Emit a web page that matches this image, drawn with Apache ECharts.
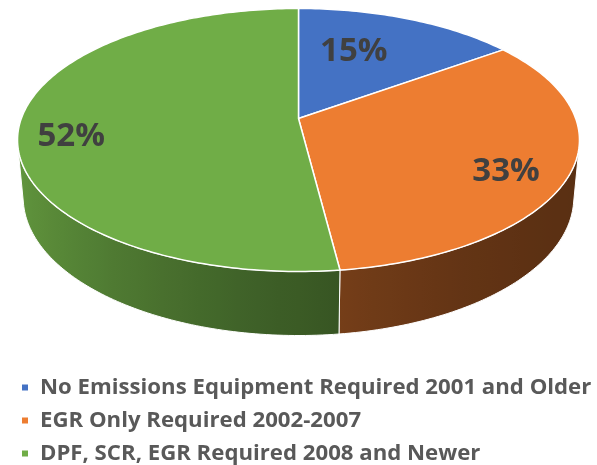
<!DOCTYPE html>
<html>
<head>
<meta charset="utf-8">
<script src="https://cdn.jsdelivr.net/npm/echarts@6/dist/echarts.min.js"></script>
<style>
  html, body { margin: 0; padding: 0; background: #fff; }
  #chart { width: 597px; height: 465px; }
</style>
</head>
<body>
<div id="chart"></div>
<script>
// Fleet share by emissions equipment generation
const categories = [
  'No Emissions Equipment Required 2001 and Older',
  'EGR Only Required 2002-2007',
  'DPF, SCR, EGR Required 2008 and Newer'
];
const shares = [15, 33, 52];
const colors = ['#4472C4', '#ED7D31', '#70AD47'];

// Where each percentage label sits on the disc (fraction of radius, vertical nudge in px)
const labelPlacement = [
  { r: 0.47, dy: -17 },
  { r: 0.775, dy: 11.5 },
  { r: 0.815, dy: 11.5 }
];

// Perspective camera looking down on a unit-radius disc
const VIEW = {
  cx: 298.5, cy: 118.5,      // screen position of the disc centre
  F: 1504,                   // focal length in px
  d: 5.426,                  // camera distance (in radii)
  tilt: 27.5 * Math.PI / 180,
  thickness: 0.2355          // disc thickness (in radii)
};
const CA = Math.cos(VIEW.tilt), SA = Math.sin(VIEW.tilt);

// theta: clockwise from the far edge; r: radius fraction; z: height (0 = top face)
function project(theta, r, z) {
  const X = r * Math.sin(theta), Y = r * Math.cos(theta);
  const dep = VIEW.d + Y * CA - z * SA;
  const sy = Y * SA + z * CA;
  return [VIEW.cx + VIEW.F * X / dep, VIEW.cy - VIEW.F * sy / dep];
}

// the rim faces the camera only where cos(theta) < -1/(d cos tilt)
const RIM_FROM = Math.acos(-1 / (VIEW.d * CA));
const RIM_TO = 2 * Math.PI - RIM_FROM;

function shade(hex, k) {
  const n = parseInt(hex.slice(1), 16);
  const r = Math.round(((n >> 16) & 255) * k);
  const g = Math.round(((n >> 8) & 255) * k);
  const b = Math.round((n & 255) * k);
  return 'rgb(' + r + ',' + g + ',' + b + ')';
}
// light comes from the left of the disc
function rimLight(theta) {
  const t = (1 + Math.cos(theta - 1.5 * Math.PI)) / 2;
  return 0.38 + 0.5 * Math.pow(t, 1.8);
}

function arc(a, b, r, z) {
  const pts = [];
  const steps = Math.max(2, Math.ceil((b - a) / (Math.PI / 180)));
  for (let s = 0; s <= steps; s++) pts.push(project(a + (b - a) * s / steps, r, z));
  return pts;
}

const total = shares.reduce((s, v) => s + v, 0);

function renderSlice(params, api) {
  const i = params.seriesIndex;
  let before = 0;
  for (let j = 0; j < i; j++) before += shares[j];
  const a = before / total * 2 * Math.PI;
  const b = a + api.value(0) / total * 2 * Math.PI;
  const color = colors[i];
  const children = [];

  // visible part of the rim
  const s = Math.max(a, RIM_FROM), e = Math.min(b, RIM_TO);
  if (e > s) {
    const top = arc(s, e, 1, 0);
    const bottom = arc(s, e, 1, -VIEW.thickness).reverse();
    const x0 = top[0][0], x1 = top[top.length - 1][0];
    const stops = [];
    const n = 24;
    for (let k = 0; k <= n; k++) {
      const th = s + (e - s) * k / n;
      const x = project(th, 1, 0)[0];
      stops.push({ offset: Math.min(1, Math.max(0, (x - x0) / (x1 - x0))), color: shade(color, rimLight(th)) });
    }
    stops.sort((p, q) => p.offset - q.offset);
    children.push({
      type: 'polygon',
      z2: 1,
      shape: { points: top.concat(bottom) },
      style: {
        fill: new echarts.graphic.LinearGradient(x0, 0, x1, 0, stops, true),
        stroke: '#ffffff', lineWidth: 1, lineJoin: 'round'
      }
    });
  }

  // top face
  children.push({
    type: 'polygon',
    z2: 5,
    shape: { points: [project(0, 0, 0)].concat(arc(a, b, 1, 0)) },
    style: { fill: color, stroke: '#ffffff', lineWidth: 1.5, lineJoin: 'round' }
  });

  // percentage label
  const lp = labelPlacement[i];
  const p = project((a + b) / 2, lp.r, 0);
  children.push({
    type: 'text',
    z2: 10,
    x: p[0], y: p[1] + lp.dy,
    style: {
      text: Math.round(api.value(0) / total * 100) + '%',
      fill: '#404040',
      font: 'bold 33px "Open Sans"',
      align: 'center', verticalAlign: 'middle'
    }
  });

  return { type: 'group', children };
}

const chart = echarts.init(document.getElementById('chart'), null, { renderer: 'canvas' });
chart.setOption({
  animation: false,
  backgroundColor: '#ffffff',
  legend: {
    orient: 'vertical',
    left: 22, top: 376.5,
    width: 575, height: 110,
    padding: 0,
    itemWidth: 6, itemHeight: 6,
    itemGap: 11,
    icon: 'rect',
    selectedMode: false,
    data: categories,
    textStyle: {
      fontFamily: 'Open Sans', fontWeight: 'bold', fontSize: 22.2,
      color: '#595959', padding: [0, 0, 0, 7]
    }
  },
  series: categories.map((name, i) => ({
    type: 'custom',
    name,
    coordinateSystem: 'none',
    silent: true,
    itemStyle: { color: colors[i] },
    data: [shares[i]],
    renderItem: renderSlice
  }))
});
</script>
</body>
</html>
